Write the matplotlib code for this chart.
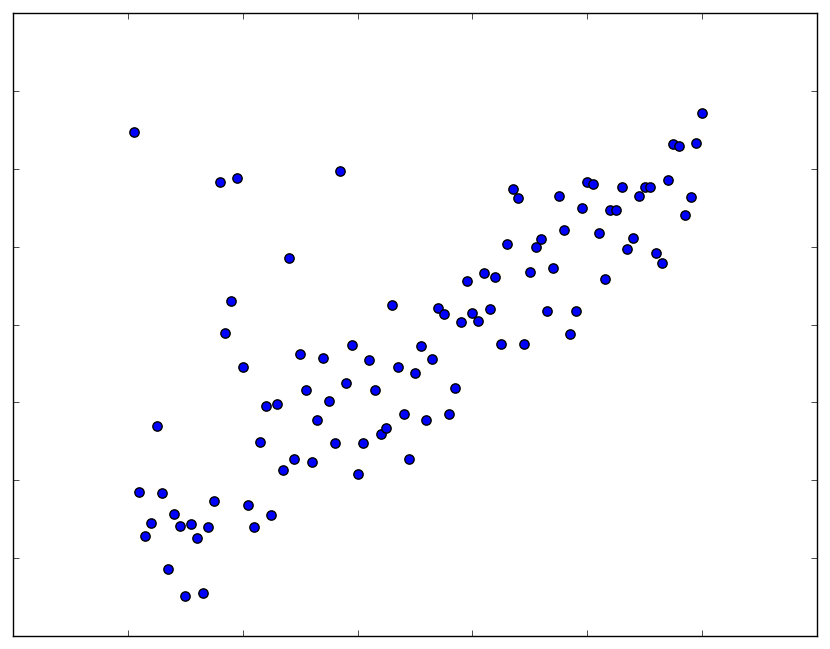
import matplotlib
matplotlib.use("Agg")
import matplotlib.pyplot as plt

x_values = [0.01, 0.02, 0.03, 0.04, 0.05, 0.06, 0.07, 0.08, 0.09, 0.10,
            0.11, 0.12, 0.13, 0.14, 0.15, 0.16, 0.17, 0.18, 0.19, 0.20,
            0.21, 0.22, 0.23, 0.24, 0.25, 0.26, 0.27, 0.28, 0.29, 0.30,
            0.31, 0.32, 0.33, 0.34, 0.35, 0.36, 0.37, 0.38, 0.39, 0.40,
            0.41, 0.42, 0.43, 0.44, 0.45, 0.46, 0.47, 0.48, 0.49, 0.50,
            0.51, 0.52, 0.53, 0.54, 0.55, 0.56, 0.57, 0.58, 0.59, 0.60,
            0.61, 0.62, 0.63, 0.64, 0.65, 0.66, 0.67, 0.68, 0.69, 0.70,
            0.71, 0.72, 0.73, 0.74, 0.75, 0.76, 0.77, 0.78, 0.79, 0.80,
            0.81, 0.82, 0.83, 0.84, 0.85, 0.86, 0.87, 0.88, 0.89, 0.90,
            0.91, 0.92, 0.93, 0.94, 0.95, 0.96, 0.97, 0.98, 0.99, 1.00]

y_values = [0.895, -0.031, -0.144, -0.109, 0.140, -0.033, -0.228, -0.086, -0.118, -0.296,
            -0.113, -0.149, -0.290, -0.119, -0.053, 0.765, 0.379, 0.460, 0.776, 0.290,
            -0.064, -0.121, 0.097, 0.190, -0.089, 0.195, 0.026, 0.572, 0.055, 0.324,
            0.233, 0.047, 0.154, 0.314, 0.203, 0.095, 0.794, 0.249, 0.347, 0.016,
            0.095, 0.309, 0.231, 0.118, 0.133, 0.451, 0.290, 0.171, 0.054, 0.276,
            0.344, 0.155, 0.311, 0.443, 0.426, 0.171, 0.237, 0.407, 0.513, 0.430,
            0.409, 0.531, 0.439, 0.522, 0.350, 0.606, 0.748, 0.726, 0.350, 0.536,
            0.598, 0.620, 0.434, 0.545, 0.731, 0.642, 0.376, 0.434, 0.699, 0.765,
            0.760, 0.634, 0.518, 0.695, 0.694, 0.754, 0.595, 0.622, 0.731, 0.754,
            0.754, 0.583, 0.558, 0.771, 0.863, 0.858, 0.681, 0.728, 0.866, 0.944]

x_ticks = [0.0, 0.2, 0.4, 0.6, 0.8, 1.0]
y_ticks = [-0.2, 0.0, 0.2, 0.4, 0.6, 0.8, 1.0]

fig = plt.figure(figsize=(8.3, 6.49), dpi=100, facecolor="white")
ax = fig.add_axes([13 / 830, 13 / 649, 804 / 830, 623 / 649])
ax.set_facecolor("white")

ax.scatter(x_values, y_values, s=45, c="#0000ff", edgecolors="black",
           linewidths=1.0, zorder=3)

ax.set_xlim(-0.2, 1.2)
ax.set_ylim(-0.4, 1.2)
ax.set_xticks(x_ticks)
ax.set_yticks(y_ticks)
ax.set_xticklabels([])
ax.set_yticklabels([])
ax.tick_params(direction="in", length=4, width=0.5, top=True, right=True,
               bottom=True, left=True, color="black")
for sp in ax.spines.values():
    sp.set_linewidth(1.0)
    sp.set_color("black")

fig.savefig("out.png", dpi=100, facecolor="white")
